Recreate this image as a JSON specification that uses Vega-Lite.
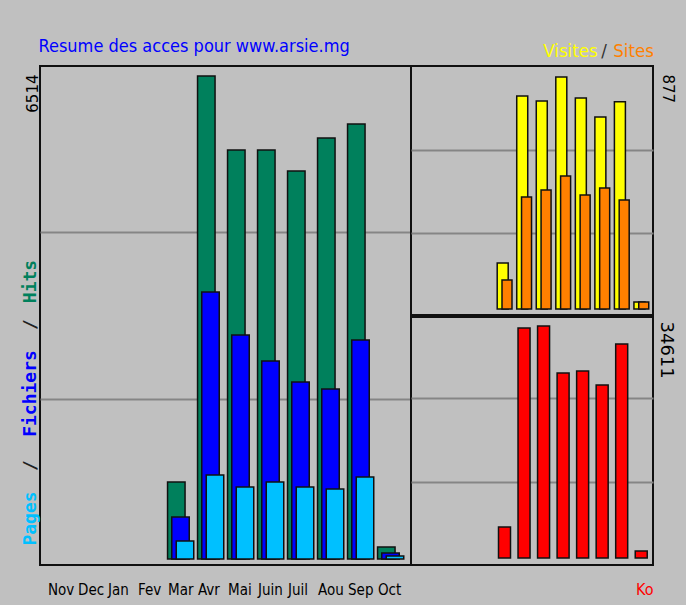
{
  "$schema": "https://vega.github.io/schema/vega-lite/v6.json",
  "background": "#c0c0c0",
  "padding": {"left": 20, "top": 36, "right": 11, "bottom": 7},
  "data": {"values": [
    {"mois": "Mar", "serie": "Hits", "valeur": 1038},
    {"mois": "Avr", "serie": "Hits", "valeur": 6514},
    {"mois": "Mai", "serie": "Hits", "valeur": 5516},
    {"mois": "Juin", "serie": "Hits", "valeur": 5516},
    {"mois": "Juil", "serie": "Hits", "valeur": 5233},
    {"mois": "Aou", "serie": "Hits", "valeur": 5678},
    {"mois": "Sep", "serie": "Hits", "valeur": 5867},
    {"mois": "Oct", "serie": "Hits", "valeur": 162},
    {"mois": "Mar", "serie": "Fichiers", "valeur": 566},
    {"mois": "Avr", "serie": "Fichiers", "valeur": 3601},
    {"mois": "Mai", "serie": "Fichiers", "valeur": 3021},
    {"mois": "Juin", "serie": "Fichiers", "valeur": 2670},
    {"mois": "Juil", "serie": "Fichiers", "valeur": 2387},
    {"mois": "Aou", "serie": "Fichiers", "valeur": 2293},
    {"mois": "Sep", "serie": "Fichiers", "valeur": 2954},
    {"mois": "Oct", "serie": "Fichiers", "valeur": 81},
    {"mois": "Mar", "serie": "Pages", "valeur": 243},
    {"mois": "Avr", "serie": "Pages", "valeur": 1133},
    {"mois": "Mai", "serie": "Pages", "valeur": 971},
    {"mois": "Juin", "serie": "Pages", "valeur": 1038},
    {"mois": "Juil", "serie": "Pages", "valeur": 971},
    {"mois": "Aou", "serie": "Pages", "valeur": 944},
    {"mois": "Sep", "serie": "Pages", "valeur": 1106},
    {"mois": "Oct", "serie": "Pages", "valeur": 40},
    {"mois": "Mar", "serie": "Visites", "valeur": 174},
    {"mois": "Avr", "serie": "Visites", "valeur": 805},
    {"mois": "Mai", "serie": "Visites", "valeur": 786},
    {"mois": "Juin", "serie": "Visites", "valeur": 877},
    {"mois": "Juil", "serie": "Visites", "valeur": 798},
    {"mois": "Aou", "serie": "Visites", "valeur": 726},
    {"mois": "Sep", "serie": "Visites", "valeur": 783},
    {"mois": "Oct", "serie": "Visites", "valeur": 26},
    {"mois": "Mar", "serie": "Sites", "valeur": 110},
    {"mois": "Avr", "serie": "Sites", "valeur": 423},
    {"mois": "Mai", "serie": "Sites", "valeur": 450},
    {"mois": "Juin", "serie": "Sites", "valeur": 503},
    {"mois": "Juil", "serie": "Sites", "valeur": 431},
    {"mois": "Aou", "serie": "Sites", "valeur": 457},
    {"mois": "Sep", "serie": "Sites", "valeur": 412},
    {"mois": "Oct", "serie": "Sites", "valeur": 26},
    {"mois": "Mar", "serie": "Ko", "valeur": 4625},
    {"mois": "Avr", "serie": "Ko", "valeur": 34313},
    {"mois": "Mai", "serie": "Ko", "valeur": 34611},
    {"mois": "Juin", "serie": "Ko", "valeur": 27599},
    {"mois": "Juil", "serie": "Ko", "valeur": 27898},
    {"mois": "Aou", "serie": "Ko", "valeur": 25809},
    {"mois": "Sep", "serie": "Ko", "valeur": 31926},
    {"mois": "Oct", "serie": "Ko", "valeur": 1044}
  ]},
  "config": {
    "view": {"stroke": "#101010", "strokeWidth": 2},
    "bar": {"stroke": "#101010", "strokeWidth": 1.5},
    "axis": {"ticks": false, "domain": false, "grid": false, "labelColor": "#000", "titleFontWeight": "normal", "gridColor": "#858585", "gridWidth": 2}
  },
  "bounds": "flush",
  "spacing": 0,
  "hconcat": [
    {
      "width": 371,
      "height": 499,
      "resolve": {"axis": {"x": "independent", "y": "independent"}},
      "layer": [
        {
          "transform": [{"filter": "datum.serie == 'Hits'"}],
          "mark": {"type": "bar", "width": 17.5, "xOffset": -4.2, "fill": "#00805c"},
          "encoding": {
            "x": {"field": "mois", "type": "ordinal",
              "scale": {"domain": ["Nov","Dec","Jan","Fev","Mar","Avr","Mai","Juin","Juil","Aou","Sep","Oct"], "paddingInner": 0, "paddingOuter": 0.1833},
              "axis": {"orient": "bottom", "labelAngle": 0, "labelAlign": "left", "labelBaseline": "alphabetic", "labelOffset": -12.5, "labelPadding": 29,
                "labelFont": "DejaVu Sans Condensed", "labelFontSize": 15, "labelOverlap": false, "labelFlush": false,
                "title": "Resume des acces pour www.arsie.mg", "titleColor": "#0000ff", "titleFont": "DejaVu Sans Condensed",
                "titleFontSize": 18, "titleAngle": 0, "titleAlign": "left", "titleBaseline": "alphabetic", "titleX": -2, "titleY": -514}},
            "y": {"field": "valeur", "type": "quantitative",
              "scale": {"domain": [0, 6649], "range": [493, 0], "nice": false, "zero": true},
              "axis": {"orient": "left", "values": [6514], "format": "d", "labelAngle": -90, "labelAlign": "right", "labelBaseline": "alphabetic",
                "labelPadding": 3, "labelOffset": -2, "labelFont": "DejaVu Sans", "labelFontSize": 15,
                "title": "Hits", "titleColor": "#00805c", "titleFont": "DejaVu Sans Mono", "titleFontWeight": "bold", "titleFontSize": 18,
                "titleAngle": -90, "titleAlign": "center", "titleBaseline": "alphabetic", "titleX": -5, "titleY": 215}}
          }
        },
        {
          "transform": [{"filter": "datum.serie == 'Fichiers'"}],
          "mark": {"type": "bar", "width": 17.5, "xOffset": 0, "fill": "#0000ff"},
          "encoding": {
            "x": {"field": "mois", "type": "ordinal",
              "axis": {"orient": "bottom", "labels": false, "title": "/", "titleColor": "#202020", "titleFont": "DejaVu Sans Mono", "titleFontWeight": "bold", "titleFontSize": 18,
                "titleAngle": -90, "titleAlign": "center", "titleBaseline": "alphabetic", "titleX": -5, "titleY": -241}},
            "y": {"field": "valeur", "type": "quantitative",
              "axis": {"orient": "left", "values": [2162, 4406], "grid": true, "labels": false,
                "title": "Fichiers", "titleColor": "#0000ff", "titleFont": "DejaVu Sans Mono", "titleFontWeight": "bold", "titleFontSize": 18,
                "titleAngle": -90, "titleAlign": "center", "titleBaseline": "alphabetic", "titleX": -5, "titleY": 327}}
          }
        },
        {
          "transform": [{"filter": "datum.serie == 'Pages'"}],
          "mark": {"type": "bar", "width": 17.5, "xOffset": 4.5, "fill": "#00c0ff"},
          "encoding": {
            "x": {"field": "mois", "type": "ordinal",
              "axis": {"orient": "bottom", "labels": false, "title": "/", "titleColor": "#202020", "titleFont": "DejaVu Sans Mono", "titleFontWeight": "bold", "titleFontSize": 18,
                "titleAngle": -90, "titleAlign": "center", "titleBaseline": "alphabetic", "titleX": -5, "titleY": -100}},
            "y": {"field": "valeur", "type": "quantitative",
              "axis": {"orient": "left", "values": [], "labels": false,
                "title": "Pages", "titleColor": "#00c0ff", "titleFont": "DejaVu Sans Mono", "titleFontWeight": "bold", "titleFontSize": 18,
                "titleAngle": -90, "titleAlign": "center", "titleBaseline": "alphabetic", "titleX": -5, "titleY": 452}}
          }
        }
      ]
    },
    {
      "bounds": "flush",
      "spacing": 2,
      "vconcat": [
        {
          "width": 242,
          "height": 249,
          "resolve": {"axis": {"x": "independent", "y": "independent"}},
          "layer": [
            {
              "transform": [{"filter": "datum.serie == 'Visites'"}],
              "mark": {"type": "bar", "width": 11, "xOffset": 0, "fill": "#ffff00"},
              "encoding": {
                "x": {"field": "mois", "type": "ordinal",
                  "scale": {"domain": ["Nov","Dec","Jan","Fev","Mar","Avr","Mai","Juin","Juil","Aou","Sep","Oct"], "paddingInner": 0, "paddingOuter": 0.1946},
                  "axis": {"orient": "top", "labels": false, "title": "Visites", "titleColor": "#ffff00",
                    "titleFont": "DejaVu Sans Condensed", "titleFontSize": 18.5,
                    "titleAngle": 0, "titleAlign": "center", "titleBaseline": "alphabetic", "titleX": 159, "titleY": -10}},
                "y": {"field": "valeur", "type": "quantitative",
                  "scale": {"domain": [0, 918.6], "range": [243, 0], "nice": false, "zero": true},
                  "axis": {"orient": "right", "values": [877], "format": "d", "labelAngle": 90, "labelAlign": "left", "labelBaseline": "alphabetic",
                    "labelPadding": 9, "labelOffset": -3, "labelFont": "DejaVu Sans", "labelFontSize": 15,
                    "title": "/", "titleColor": "#303030", "titleFont": "DejaVu Sans Condensed", "titleFontSize": 18.5,
                    "titleAngle": 0, "titleAlign": "center", "titleBaseline": "alphabetic", "titleX": -49.5, "titleY": -10}}
              }
            },
            {
              "transform": [{"filter": "datum.serie == 'Sites'"}],
              "mark": {"type": "bar", "width": 10, "xOffset": 4.3, "fill": "#ff8000"},
              "encoding": {
                "x": {"field": "mois", "type": "ordinal",
                  "axis": {"orient": "top", "labels": false, "title": "Sites", "titleColor": "#ff8000",
                    "titleFont": "DejaVu Sans Condensed", "titleFontSize": 18.5,
                    "titleAngle": 0, "titleAlign": "center", "titleBaseline": "alphabetic", "titleX": 222, "titleY": -10}},
                "y": {"field": "valeur", "type": "quantitative",
                  "axis": {"orient": "left", "values": [287.3, 601], "grid": true, "labels": false, "title": null}}
              }
            }
          ]
        },
        {
          "width": 242,
          "height": 248,
          "transform": [{"filter": "datum.serie == 'Ko'"}],
          "mark": {"type": "bar", "width": 12, "xOffset": 1.8, "fill": "#ff0000"},
          "encoding": {
            "x": {"field": "mois", "type": "ordinal",
              "scale": {"domain": ["Nov","Dec","Jan","Fev","Mar","Avr","Mai","Juin","Juil","Aou","Sep","Oct"], "paddingInner": 0, "paddingOuter": 0.1946},
              "axis": {"orient": "bottom", "labels": false, "title": "Ko", "titleColor": "#ff0000",
                "titleFont": "DejaVu Sans Condensed", "titleFontSize": 16,
                "titleAngle": 0, "titleAlign": "right", "titleBaseline": "alphabetic", "titleX": 242, "titleY": 29}},
            "y": {"field": "valeur", "type": "quantitative",
              "scale": {"domain": [0, 35954], "range": [241, 0], "nice": false, "zero": true},
              "axis": {"orient": "right", "values": [11338, 23870, 34611], "grid": true,
                "gridOpacity": {"condition": {"test": "datum.value == 34611", "value": 0}, "value": 1},
                "labelExpr": "datum.value == 34611 ? '34611' : ''",
                "labelAngle": 90, "labelAlign": "left", "labelBaseline": "alphabetic",
                "labelPadding": 7, "labelOffset": -5, "labelFont": "DejaVu Sans", "labelFontSize": 18, "title": null}}
          }
        }
      ]
    }
  ]
}
